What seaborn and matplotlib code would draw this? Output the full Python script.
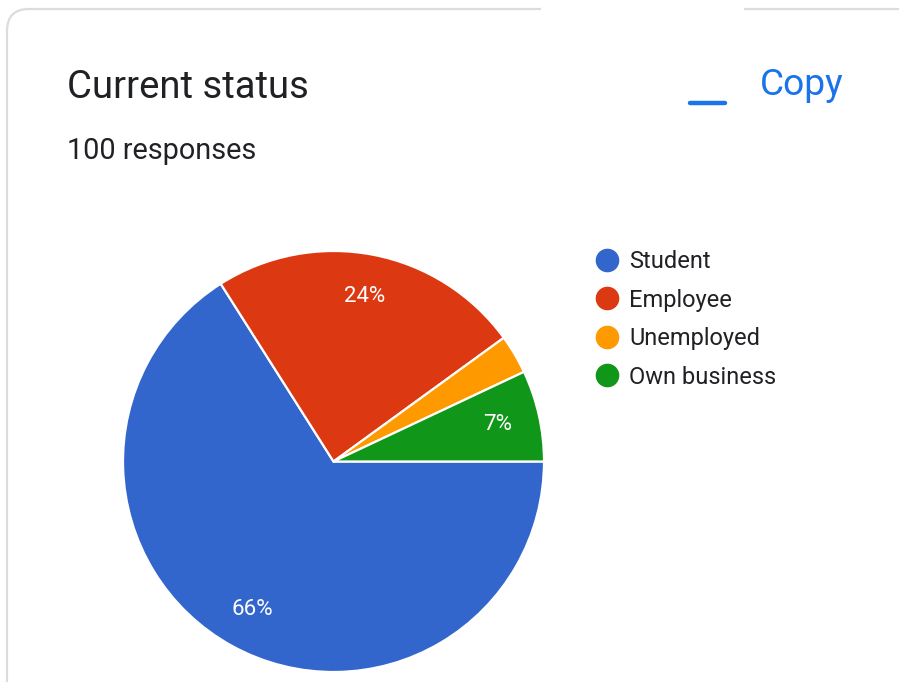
import matplotlib
matplotlib.use("Agg")
import matplotlib.pyplot as plt
import seaborn as sns
from matplotlib.lines import Line2D
from matplotlib.patches import FancyBboxPatch, Rectangle
from matplotlib.transforms import IdentityTransform

# Survey answers
categories = ["Student", "Employee", "Unemployed", "Own business"]
shares = [66, 24, 3, 7]
colors = ["#3366cc", "#dc3912", "#ff9900", "#109618"]
title = "Current status"
subtitle = "100 responses"

sns.set_theme(style="white")
plt.rcParams["font.family"] = ["Roboto", "DejaVu Sans"]

W, H = 899, 682
fig = plt.figure(figsize=(W / 100, H / 100), dpi=100)
fig.patch.set_facecolor("white")

# Card outline (runs past the right and bottom edges)
card = FancyBboxPatch((7, -40), 950, H - 9 + 40, boxstyle="round,pad=0,rounding_size=22",
                      transform=IdentityTransform(), facecolor="white",
                      edgecolor="#dadce0", linewidth=1.6, zorder=-2)
fig.patches.append(card)
fig.patches.append(Rectangle((541, H - 30), 203, 30, transform=IdentityTransform(),
                             facecolor="white", edgecolor="none", zorder=-1))

# Header texts
fig.text(67 / W, 1 - 98 / H, title, fontsize=27.5, color="#202124", va="baseline", ha="left")
fig.text(67 / W, 1 - 159 / H, subtitle, fontsize=20.8, color="#202124", va="baseline", ha="left")
fig.text(760 / W, 1 - 95 / H, "Copy", fontsize=26.7, color="#1a73e8", va="baseline", ha="left")
fig.lines.append(Line2D([690 / W, 725 / W], [1 - 103 / H, 1 - 103 / H], transform=fig.transFigure,
                        color="#1a73e8", linewidth=3.2, solid_capstyle="round"))

# Pie
cx, cy, r = 333.5, 461.5, 210.5
ax = fig.add_axes([(cx - r) / W, (H - cy - r) / H, 2 * r / W, 2 * r / H])
ax.set_zorder(2)
palette = sns.color_palette(colors)
wedges, texts, autotexts = ax.pie(
    shares, colors=palette, startangle=0, counterclock=False, radius=1,
    autopct=lambda p: f"{p:.0f}%" if p >= 5 else "", pctdistance=0.8,
    wedgeprops=dict(edgecolor="white", linewidth=1.6),
    textprops=dict(color="white", fontsize=16))
ax.set_xlim(-1, 1)
ax.set_ylim(-1, 1)
ax.set_aspect("equal")
ax.axis("off")

# Legend
handles = [Line2D([], [], marker="o", linestyle="", markersize=16, markerfacecolor=c,
                  markeredgecolor=c) for c in palette]
fig.legend(handles, categories, loc="upper left", bbox_to_anchor=(595 / W, 1 - 250 / H),
           frameon=False, fontsize=17, labelspacing=0.66, handletextpad=0.45,
           handlelength=1.0, borderaxespad=0, borderpad=0, labelcolor="#202124")

fig.savefig("out.png", dpi=100, facecolor="white")
